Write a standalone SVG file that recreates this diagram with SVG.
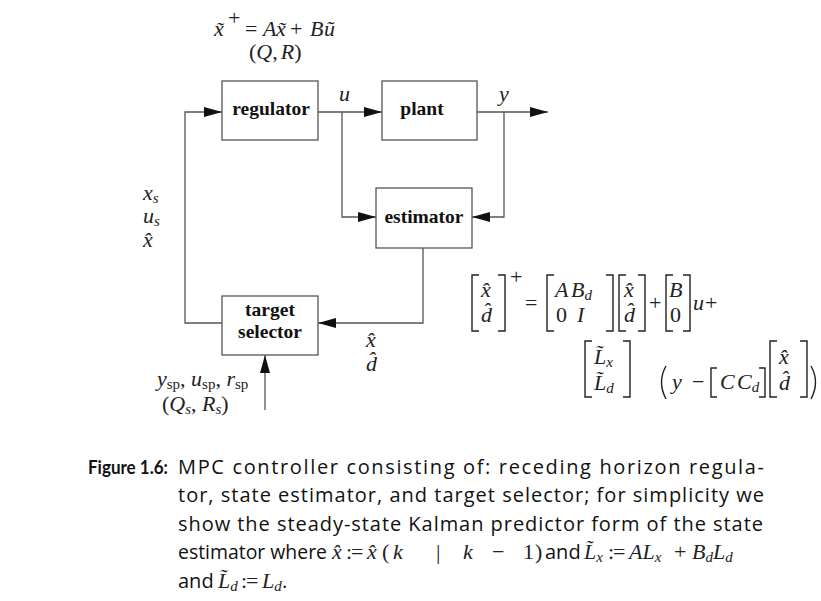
<svg xmlns="http://www.w3.org/2000/svg" width="821" height="601" viewBox="0 0 821 601">
<style>
.box{fill:#fff;stroke:#555;stroke-width:1.3}
.ln{fill:none;stroke:#555;stroke-width:1.3}
.br{fill:none;stroke:#222;stroke-width:1.4}
.lbl{font-family:"Liberation Serif",serif;font-weight:bold;font-size:19.5px;fill:#111;text-anchor:middle}
.mi{font-family:"Liberation Serif",serif;font-style:italic;font-size:22px;fill:#222}
.mr{font-family:"Liberation Serif",serif;font-style:normal;font-size:22px;fill:#222}
.sub{font-size:15px}
.cap{font-family:"Open Sans",sans-serif;font-size:20px;fill:#111}
.capb{font-family:Lato,"Open Sans",sans-serif;font-size:19px;font-weight:bold;fill:#111}
</style>
<defs>
<marker id="ah" markerUnits="userSpaceOnUse" markerWidth="18" markerHeight="10" refX="18" refY="5" orient="auto">
<path d="M0,0 L18,5 L0,10 z" fill="#111"/>
</marker>
</defs>
<rect width="821" height="601" fill="#fff"/>

<g id="formula-top">
<text class="mi" x="214" y="36">x&#x303;</text>
<text class="mr" x="228" y="25" font-size="15">+</text>
<text class="mr" x="245" y="36">=</text>
<text class="mi" x="263" y="36">A</text>
<text class="mi" x="276" y="36">x&#x303;</text>
<text class="mr" x="290" y="36">+</text>
<text class="mi" x="310" y="36">B</text>
<text class="mi" x="324" y="36">u&#x303;</text>
<text class="mr" x="249" y="59">(<tspan class="mi">Q</tspan>,<tspan class="mi" dx="3">R</tspan>)</text>
</g>

<g id="connectors">
<path class="ln" d="M222,323 L185,323 L185,112 L222,112" marker-end="url(#ah)"/>
<path class="ln" d="M318,112 L382,112" marker-end="url(#ah)"/>
<path class="ln" d="M477,112 L548,112" marker-end="url(#ah)"/>
<path class="ln" d="M342,112 L342,217 L376,217" marker-end="url(#ah)"/>
<path class="ln" d="M504,112 L504,217 L472,217" marker-end="url(#ah)"/>
<path class="ln" d="M423,248 L423,323 L318,323" marker-end="url(#ah)"/>
<path class="ln" d="M265,410 L265,355" marker-end="url(#ah)"/>
</g>

<g id="regulator">
<rect class="box" x="222" y="81" width="96" height="59"/>
<text class="lbl" x="271" y="115">regulator</text>
</g>
<g id="plant">
<rect class="box" x="382" y="81" width="95" height="59"/>
<text class="lbl" x="422" y="115">plant</text>
</g>
<g id="estimator">
<rect class="box" x="376" y="188" width="96" height="60"/>
<text class="lbl" x="424" y="223">estimator</text>
</g>
<g id="target-selector">
<rect class="box" x="222" y="296" width="96" height="59"/>
<text class="lbl" x="270" y="316">target</text>
<text class="lbl" x="270" y="338">selector</text>
</g>

<g id="labels">
<text class="mi" x="339" y="101">u</text>
<text class="mi" x="499" y="101">y</text>
<text class="mi" x="143" y="200">x<tspan class="sub" dy="3">s</tspan></text>
<text class="mi" x="143" y="223">u<tspan class="sub" dy="3">s</tspan></text>
<text class="mi" x="143" y="247">x&#x302;</text>
<text class="mi" x="366" y="347">x&#x302;</text>
<text class="mi" x="366" y="371">d&#x302;</text>
<text class="mi" x="157" y="386">y<tspan class="mr sub" dy="3">sp</tspan><tspan class="mr" dy="-3">, </tspan>u<tspan class="mr sub" dy="3">sp</tspan><tspan class="mr" dy="-3">, </tspan>r<tspan class="mr sub" dy="3">sp</tspan></text>
<text class="mr" x="162" y="411">(<tspan class="mi">Q</tspan><tspan class="mi sub" dy="3">s</tspan><tspan dy="-3">, </tspan><tspan class="mi">R</tspan><tspan class="mi sub" dy="3">s</tspan><tspan dy="-3">)</tspan></text>
</g>

<g id="equation">
<path class="br" d="M479,275 H472 V331 H479 M498,275 H505 V331 H498"/>
<text class="mi" x="481" y="297">x&#x302;</text>
<text class="mi" x="481" y="322">d&#x302;</text>
<text class="mr" x="510" y="284" font-size="15">+</text>
<text class="mr" x="525" y="310">=</text>
<path class="br" d="M554,275 H547 V331 H554 M606,275 H613 V331 H606"/>
<text class="mi" x="555" y="297">A</text>
<text class="mi" x="571" y="297">B<tspan class="sub" dy="3">d</tspan></text>
<text class="mr" x="556" y="322">0</text>
<text class="mi" x="577" y="322">I</text>
<path class="br" d="M626,275 H619 V331 H626 M638,275 H645 V331 H638"/>
<text class="mi" x="624" y="297">x&#x302;</text>
<text class="mi" x="624" y="322">d&#x302;</text>
<text class="mr" x="649" y="310">+</text>
<path class="br" d="M673,275 H666 V331 H673 M683,275 H690 V331 H683"/>
<text class="mi" x="669" y="297">B</text>
<text class="mr" x="670" y="322">0</text>
<text class="mi" x="693" y="310">u</text><text class="mr" x="705" y="310">+</text>

<path class="br" d="M592,341 H585 V397 H592 M623,341 H630 V397 H623"/>
<text class="mi" x="594" y="364">L&#x303;<tspan class="sub" dy="3">x</tspan></text>
<text class="mi" x="594" y="390">L&#x303;<tspan class="sub" dy="3">d</tspan></text>
<path class="br" d="M666,366 Q657,382 666,399"/>
<text class="mi" x="672" y="389">y</text>
<text class="mr" x="692" y="389">−</text>
<path class="br" d="M717,368 H711 V397 H717 M759,368 H765 V397 H759"/>
<text class="mi" x="720" y="389">C</text>
<text class="mi" x="737" y="389">C<tspan class="sub" dy="3">d</tspan></text>
<path class="br" d="M777,341 H770 V397 H777 M800,341 H807 V397 H800"/>
<text class="mi" x="779" y="364">x&#x302;</text>
<text class="mi" x="779" y="390">d&#x302;</text>
<path class="br" d="M811,366 Q820,382 811,399"/>
</g>

<g id="caption">
<text class="capb" x="88" y="474" textLength="80" lengthAdjust="spacingAndGlyphs">Figure 1.6:</text>
<text class="cap" x="178" y="474" textLength="586" lengthAdjust="spacing">MPC controller consisting of:  receding horizon regula-</text>
<text class="cap" x="178" y="502" textLength="586" lengthAdjust="spacing">tor, state estimator, and target selector; for simplicity we</text>
<text class="cap" x="178" y="531" textLength="585" lengthAdjust="spacing">show the steady-state Kalman predictor form of the state</text>
<text class="cap" x="178" y="559" textLength="149" lengthAdjust="spacingAndGlyphs">estimator where</text>
<text class="mi" x="332" y="559">x&#x302;</text>
<text class="mr" x="346" y="559" letter-spacing="-1">:=</text>
<text class="mi" x="367" y="559">x&#x302;</text>
<text class="mr" x="382" y="559">(</text>
<text class="mi" x="393" y="559">k</text>
<text class="mr" x="436" y="559">|</text>
<text class="mi" x="463" y="559">k</text>
<text class="mr" x="492" y="559">−</text>
<text class="mr" x="523" y="559">1</text>
<text class="mr" x="535" y="559">)</text>
<text class="cap" x="545" y="559">and</text>
<text class="mi" x="584" y="559">L&#x303;<tspan class="sub" dy="3">x</tspan></text>
<text class="mr" x="608" y="559" letter-spacing="-1">:=</text>
<text class="mi" x="629" y="559">AL<tspan class="sub" dy="3">x</tspan></text>
<text class="mr" x="674" y="559">+</text>
<text class="mi" x="692" y="559">B<tspan class="sub" dy="3">d</tspan><tspan dy="-3">L</tspan><tspan class="sub" dy="3">d</tspan></text>
<text class="cap" x="178" y="588">and</text>
<text class="mi" x="218" y="588">L&#x303;<tspan class="sub" dy="3">d</tspan></text>
<text class="mr" x="241" y="588" letter-spacing="-1">:=</text>
<text class="mi" x="262" y="588">L<tspan class="sub" dy="3">d</tspan></text>
<text class="cap" x="282" y="588">.</text>
</g>
</svg>
